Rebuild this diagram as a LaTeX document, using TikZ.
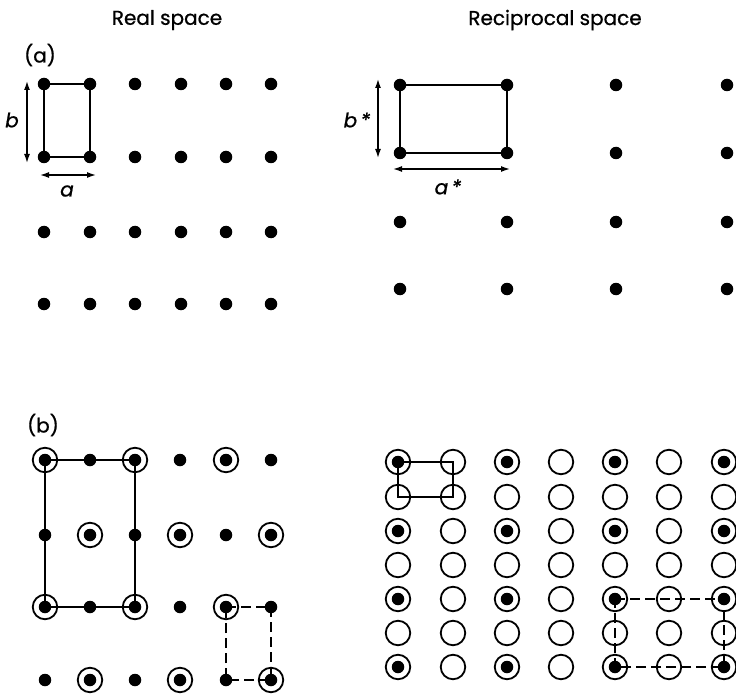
\documentclass[tikz,border=0pt]{standalone}
\usepackage{fontspec}
\setmainfont{Poppins}[FakeBold=0.8]
\usetikzlibrary{arrows.meta}
\begin{document}
\begin{tikzpicture}[x=1pt,y=-1pt,
  dot/.style={circle,fill=black,inner sep=0pt,minimum size=12.5pt},
  ring/.style={circle,draw=black,line width=1.8pt,inner sep=0pt,minimum size=24.5pt},
  cell/.style={line width=2pt},
  dashcell/.style={line width=1.8pt,dash pattern=on 10pt off 5pt},
  dim/.style={line width=1.4pt,{Latex[length=9pt,width=6pt]}-{Latex[length=9pt,width=6pt]}},
  title/.style={font=\fontsize{20}{24}\selectfont},
  lab/.style={font=\fontsize{20}{24}\selectfont\itshape},
  panel/.style={font=\fontsize{20}{24}\selectfont}]
\useasboundingbox (0,0) rectangle (736,695);

% titles and panel labels
\node[title] (t1) at (167,20) {Real space};
\node[title] (t2) at (555,20) {Reciprocal space};
\node[panel] (pa) at (40,55) {(a)};
\node[panel] (pb) at (43,425) {(b)};

% (a) real space
\foreach \c/\x in {1/44,2/90,3/135,4/181,5/226,6/271}
  \foreach \r/\y in {1/84,2/157,3/232,4/304}
    \node[dot] (A-\c-\r) at (\x,\y) {};
\draw[cell] (A-1-1.center) -- (A-2-1.center) -- (A-2-2.center) -- (A-1-2.center) -- cycle;
\coordinate (bt) at (27,81);
\coordinate (bb) at (27,163);
\draw[dim] (bt) -- (bb);
\node[lab] (lb) at (12,120) {b};
\coordinate (al) at (40,175);
\coordinate (ar) at (96,175);
\draw[dim] (al) -- (ar);
\node[lab] (la) at (67,191) {a};

% (a) reciprocal space
\foreach \c/\x in {1/400,2/507,3/616,4/727}
  \foreach \r/\y in {1/85,2/153,3/222,4/289}
    \node[dot] (R-\c-\r) at (\x,\y) {};
\draw[cell] (R-1-1.center) -- (R-2-1.center) -- (R-2-2.center) -- (R-1-2.center) -- cycle;
\coordinate (st) at (378,79);
\coordinate (sb) at (378,158);
\draw[dim] (st) -- (sb);
\node[lab] (lbs) at (357,120) {b\,*};
\coordinate (sl) at (393,169);
\coordinate (sr) at (510,169);
\draw[dim] (sl) -- (sr);
\node[lab] (las) at (448,187) {a\,*};

% (b) real space
\foreach \c/\x in {1/45,2/90,3/135,4/180,5/226,6/271}
  \foreach \r/\y in {1/460,2/535,3/607,4/680} {
    \node[dot] (B-\c-\r) at (\x,\y) {};
    \pgfmathparse{int(mod(\c+\r,2))}
    \ifnum\pgfmathresult=0 \node[ring] (BR-\c-\r) at (\x,\y) {};\fi
  }
\draw[cell] (B-1-1.center) -- (B-3-1.center) -- (B-3-3.center) -- (B-1-3.center) -- cycle;
\draw[dashcell] (B-5-3.center) -- (B-6-3.center) -- (B-6-4.center) -- (B-5-4.center) -- cycle;

% (b) reciprocal space
\foreach \c/\x in {1/398,2/453,3/507,4/561,5/615,6/669,7/724}
  \foreach \r/\y in {1/462,2/497,3/531,4/565,5/599,6/633,7/667} {
    \node[ring] (C-\c-\r) at (\x,\y) {};
    \pgfmathparse{int(mod(\c,2)*mod(\r,2))}
    \ifnum\pgfmathresult=1 \node[dot] (CD-\c-\r) at (\x,\y) {};\fi
  }
\draw[cell] (C-1-1.center) -- (C-2-1.center) -- (C-2-2.center) -- (C-1-2.center) -- cycle;
\draw[dashcell] (C-5-5.center) -- (C-7-5.center) -- (C-7-7.center) -- (C-5-7.center) -- cycle;
\end{tikzpicture}
\end{document}
